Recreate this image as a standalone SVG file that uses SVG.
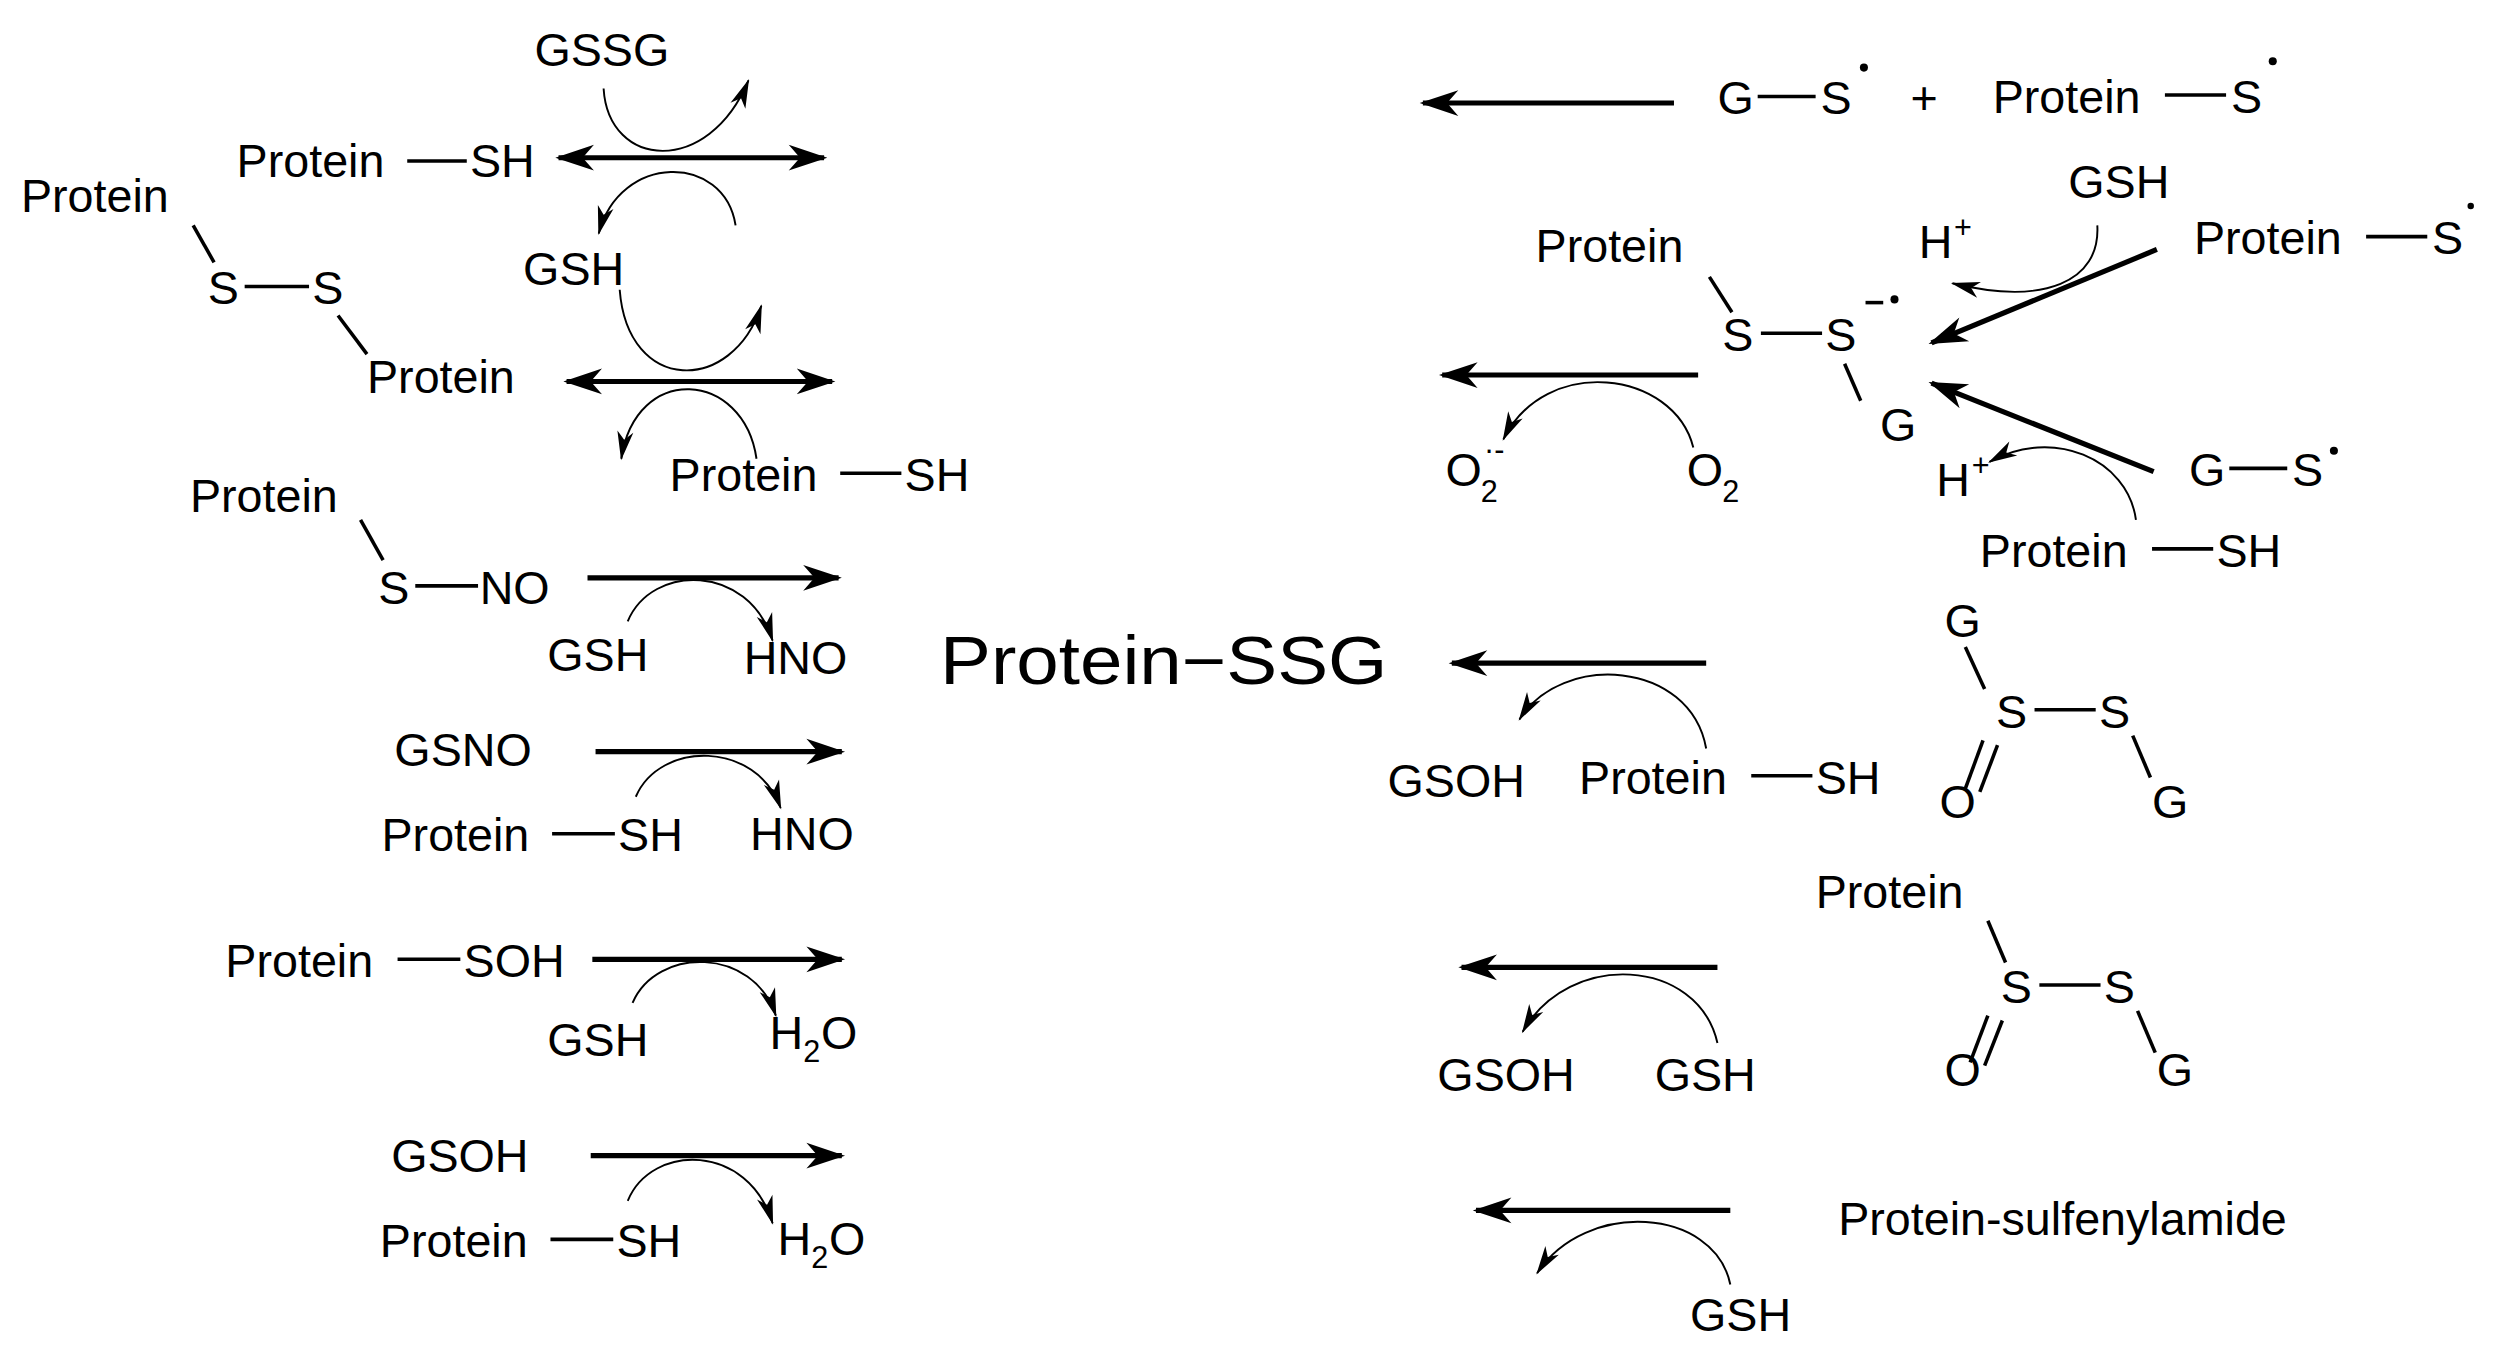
<svg xmlns="http://www.w3.org/2000/svg" width="2511" height="1367" viewBox="0 0 2511 1367">
<defs>
<style>
text{font-family:"Liberation Sans",Arial,sans-serif;font-size:29px;fill:#000}
.s{font-size:19px}
.b{stroke:#000;stroke-width:2.2;fill:none}
.a{stroke:#000;stroke-width:3.2;fill:none}
.c{stroke:#000;stroke-width:1.2;fill:none}
.af{marker-end:url(#big)}
.ab{marker-start:url(#bigs);marker-end:url(#big)}
.cf{marker-end:url(#sm)}
</style>
<marker id="big" markerUnits="userSpaceOnUse" orient="auto" refX="0" refY="0" markerWidth="40" markerHeight="40" viewBox="-30 -15 40 30" overflow="visible"><path d="M2,0 L-22,-8 L-15,0 L-22,8 Z" fill="#000"/></marker>
<marker id="bigs" markerUnits="userSpaceOnUse" orient="auto-start-reverse" refX="0" refY="0" markerWidth="40" markerHeight="40" viewBox="-30 -15 40 30" overflow="visible"><path d="M2,0 L-22,-8 L-15,0 L-22,8 Z" fill="#000"/></marker>
<marker id="sm" markerUnits="userSpaceOnUse" orient="auto" refX="0" refY="0" markerWidth="30" markerHeight="30" viewBox="-20 -10 30 20" overflow="visible"><path d="M1,0 L-17,-5 L-12,0 L-17,5 Z" fill="#000"/></marker>
</defs>
<rect width="2511" height="1367" fill="#fff"/>
<g transform="scale(1.6096)">
<g id="connectors">
<line class="a ab" x1="347" y1="98" x2="512" y2="98"/>
<path class="c cf" d="M375,55 C378,105 440,110 465,50"/>
<path class="c cf" d="M457,140 C450,95 385,95 372,145"/>
<line class="a ab" x1="352" y1="237" x2="517" y2="237"/>
<path class="c cf" d="M385,180 C390,245 455,245 473,190"/>
<path class="c cf" d="M470,285 C462,230 395,225 386,285"/>
<line class="a af" x1="365" y1="359" x2="521" y2="359"/>
<path class="c cf" d="M390,386 C405,350 465,350 480,398"/>
<line class="a af" x1="370" y1="467" x2="523" y2="467"/>
<path class="c cf" d="M395,495 C410,460 470,460 485,502"/>
<line class="a af" x1="368" y1="596" x2="523" y2="596"/>
<path class="c cf" d="M393,623 C408,588 468,588 482,631"/>
<line class="a af" x1="367" y1="718" x2="523" y2="718"/>
<path class="c cf" d="M390,746 C405,710 465,710 480,760"/>
<line class="a af" x1="1040" y1="64" x2="884" y2="64"/>
<line class="a af" x1="1340" y1="155" x2="1200" y2="213"/>
<path class="c cf" d="M1303,140 C1305,175 1270,190 1213,176"/>
<line class="a af" x1="1055" y1="233" x2="896" y2="233"/>
<path class="c cf" d="M1052,278 C1040,230 960,220 934,273"/>
<line class="a af" x1="1338" y1="293" x2="1200" y2="238"/>
<path class="c cf" d="M1327,323 C1322,285 1275,265 1236,287"/>
<line class="a af" x1="1060" y1="412" x2="902" y2="412"/>
<path class="c cf" d="M1060,465 C1050,410 970,405 944,447"/>
<line class="a af" x1="1067" y1="601" x2="908" y2="601"/>
<path class="c cf" d="M1067,648 C1055,595 975,590 946,641"/>
<line class="a af" x1="1075" y1="752" x2="917" y2="752"/>
<path class="c cf" d="M1075,798 C1065,750 985,745 955,791"/>
</g>
<g id="left-top">
<text x="332" y="41">GSSG</text>
<text x="147" y="110">Protein</text><line class="b" x1="253" y1="100" x2="290" y2="100"/><text x="292" y="110">SH</text>
<text x="325" y="177">GSH</text>
<text x="13" y="132">Protein</text>
<line class="b" x1="120" y1="140" x2="133" y2="163"/>
<text x="129" y="189">S</text><line class="b" x1="152" y1="178" x2="192" y2="178"/><text x="194" y="189">S</text>
<line class="b" x1="210" y1="196" x2="228" y2="220"/>
<text x="228" y="244">Protein</text>
<text x="416" y="305">Protein</text><line class="b" x1="522" y1="294" x2="560" y2="294"/><text x="562" y="305">SH</text>
</g>
<g id="left-sno">
<text x="118" y="318">Protein</text>
<line class="b" x1="224" y1="323" x2="238" y2="348"/>
<text x="235" y="375">S</text><line class="b" x1="258" y1="364" x2="297" y2="364"/><text x="298" y="375">NO</text>
<text x="340" y="417">GSH</text><text x="462" y="419">HNO</text>
</g>
<g id="left-gsno">
<text x="245" y="476">GSNO</text>
<text x="237" y="529">Protein</text><line class="b" x1="343" y1="518" x2="382" y2="518"/><text x="384" y="529">SH</text>
<text x="466" y="528">HNO</text>
</g>
<g id="left-soh">
<text x="140" y="607">Protein</text><line class="b" x1="247" y1="596" x2="286" y2="596"/><text x="288" y="607">SOH</text>
<text x="340" y="656">GSH</text>
<text x="478" y="652">H</text><text class="s" x="499" y="660">2</text><text x="510" y="652">O</text>
</g>
<g id="left-gsoh">
<text x="243" y="728">GSOH</text>
<text x="236" y="781">Protein</text><line class="b" x1="342" y1="770" x2="381" y2="770"/><text x="383" y="781">SH</text>
<text x="483" y="780">H</text><text class="s" x="504" y="788">2</text><text x="515" y="780">O</text>
</g>
<g id="center">
<text x="584" y="425" style="font-size:42px" textLength="278" lengthAdjust="spacingAndGlyphs">Protein−SSG</text>
</g>
<g id="right-radical">
<text x="1067" y="71">G</text><line class="b" x1="1092" y1="60" x2="1128" y2="60"/><text x="1131" y="71">S</text><circle cx="1158" cy="42" r="2.5"/>
<text x="1187" y="71">+</text>
<text x="1238" y="70">Protein</text><line class="b" x1="1345" y1="59" x2="1383" y2="59"/><text x="1386" y="70">S</text><circle cx="1412" cy="38" r="2.5"/>
</g>
<g id="right-anion">
<text x="1285" y="123">GSH</text>
<text x="1192" y="160">H</text><text class="s" x="1214" y="148">+</text>
<text x="954" y="163">Protein</text>
<line class="b" x1="1062" y1="172" x2="1076" y2="194"/>
<text x="1070" y="218">S</text><line class="b" x1="1094" y1="207" x2="1132" y2="207"/><text x="1134" y="218">S</text>
<line class="b" x1="1159" y1="188" x2="1170" y2="188"/><circle cx="1177" cy="186" r="2.5"/>
<line class="b" x1="1146" y1="226" x2="1156" y2="249"/>
<text x="1168" y="274">G</text>
<text x="1363" y="158">Protein</text><line class="b" x1="1470" y1="147" x2="1508" y2="147"/><text x="1511" y="158">S</text><circle cx="1535" cy="128" r="2"/>
<text x="898" y="302">O</text><text class="s" x="920" y="312">2</text><text class="s" x="922" y="286">·-</text>
<text x="1048" y="302">O</text><text class="s" x="1070" y="312">2</text>
<text x="1360" y="302">G</text><line class="b" x1="1385" y1="291" x2="1421" y2="291"/><text x="1424" y="302">S</text><circle cx="1450" cy="280" r="2.5"/>
<text x="1203" y="308">H</text><text class="s" x="1225" y="296">+</text>
<text x="1230" y="352">Protein</text><line class="b" x1="1337" y1="341" x2="1375" y2="341"/><text x="1377" y="352">SH</text>
</g>
<g id="right-thiosulfinate">
<text x="862" y="495">GSOH</text>
<text x="981" y="493">Protein</text><line class="b" x1="1088" y1="482" x2="1126" y2="482"/><text x="1128" y="493">SH</text>
<text x="1208" y="396">G</text>
<line class="b" x1="1221" y1="402" x2="1233" y2="428"/>
<text x="1240" y="452">S</text><line class="b" x1="1264" y1="441" x2="1302" y2="441"/><text x="1304" y="452">S</text>
<line class="b" x1="1232" y1="460" x2="1221" y2="490"/><line class="b" x1="1241" y1="463" x2="1230" y2="492"/>
<line class="b" x1="1325" y1="457" x2="1336" y2="483"/>
<text x="1205" y="508">O</text><text x="1337" y="508">G</text>
</g>
<g id="right-protein-thiosulfinate">
<text x="893" y="678">GSOH</text><text x="1028" y="678">GSH</text>
<text x="1128" y="564">Protein</text>
<line class="b" x1="1235" y1="572" x2="1246" y2="598"/>
<text x="1243" y="623">S</text><line class="b" x1="1267" y1="612" x2="1305" y2="612"/><text x="1307" y="623">S</text>
<line class="b" x1="1235" y1="631" x2="1224" y2="660"/><line class="b" x1="1244" y1="634" x2="1233" y2="662"/>
<line class="b" x1="1328" y1="628" x2="1339" y2="654"/>
<text x="1208" y="675">O</text><text x="1340" y="675">G</text>
</g>
<g id="right-sulfenylamide">
<text x="1142" y="767">Protein-sulfenylamide</text>
<text x="1050" y="827">GSH</text>
</g>
</g>
</svg>
